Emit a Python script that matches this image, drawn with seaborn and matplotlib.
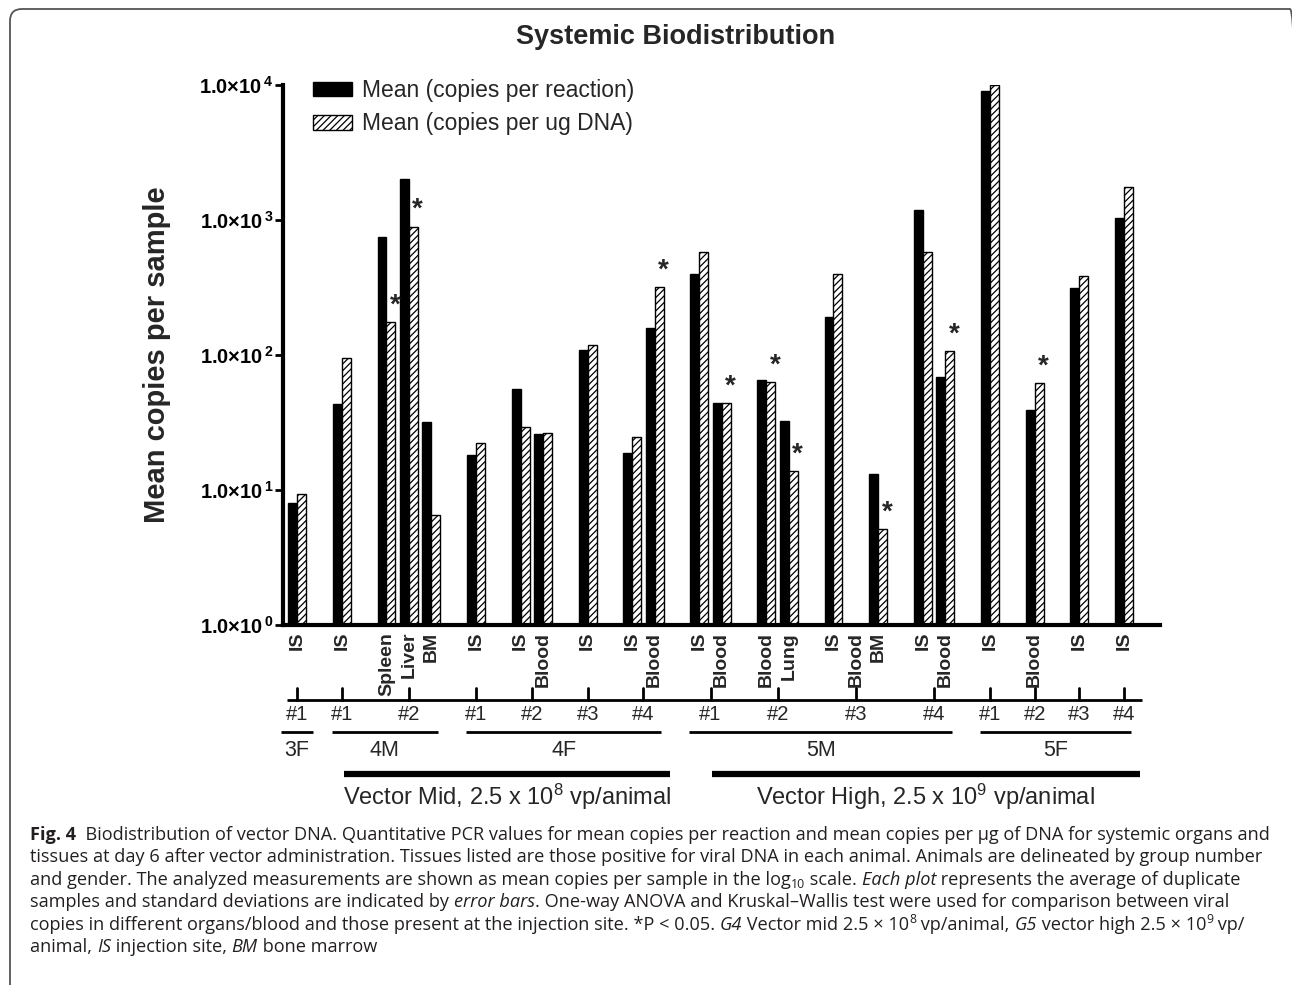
import numpy as np
import pandas as pd
import matplotlib
matplotlib.use("Agg")
import matplotlib.pyplot as plt
import matplotlib.transforms as mtransforms
from matplotlib.patches import Patch, FancyBboxPatch
from matplotlib.ticker import NullLocator
import seaborn as sns

# ---------------- data ----------------
sample_group = ["3F", "4M", "4M", "4M", "4M", "4F", "4F", "4F", "4F", "4F", "4F",
                "5M", "5M", "5M", "5M", "5M", "5M", "5M", "5M", "5M",
                "5F", "5F", "5F", "5F"]
sample_animal = ["#1", "#1", "#2", "#2", "#2", "#1", "#2", "#2", "#3", "#4", "#4",
                 "#1", "#1", "#2", "#2", "#3", "#3", "#3", "#4", "#4",
                 "#1", "#2", "#3", "#4"]
sample_tissue = ["IS", "IS", "Spleen", "Liver", "BM", "IS", "IS", "Blood", "IS", "IS", "Blood",
                 "IS", "Blood", "Blood", "Lung", "IS", "Blood", "BM", "IS", "Blood",
                 "IS", "Blood", "IS", "IS"]
copies_per_reaction = [8.0, 43, 750, 2000, 32, 18.3, 56, 26, 109, 18.7, 158,
                       400, 44, 65, 32.5, 191, np.nan, 13.1, 1180, 69,
                       9100, 39, 312, 1040]
copies_per_ug_dna = [9.3, 95, 175, 890, 6.5, 22.2, 29.4, 26.6, 118, 24.6, 319,
                     580, 44, 63, 13.8, 398, np.nan, 5.1, 577, 107,
                     10000, 62, 387, 1750]
significant = [False, False, True, True, False, False, False, False, False, False, True,
               False, True, True, True, False, False, True, False, True,
               False, True, False, False]

series = ["Mean (copies per reaction)", "Mean (copies per ug DNA)"]
groups = ["3F", "4M", "4F", "5M", "5F"]
group_dose = [None, "Mid", "Mid", "High", "High"]
dose_text = {"Mid": "Vector Mid, 2.5 x 10$^{8}$ vp/animal",
             "High": "Vector High, 2.5 x 10$^{9}$ vp/animal"}
ytick_vals = [1, 10, 100, 1000, 10000]
ytick_labels = [r"$\mathbf{1.0{\times}10^{\,%d}}$" % i for i in range(5)]

caption_lines = [
    [("Fig. 4", "b"), ("  Biodistribution of vector DNA. Quantitative PCR values for mean copies per reaction and mean copies per \u00b5g of DNA for systemic organs and", "n")],
    [("tissues at day 6 after vector administration. Tissues listed are those positive for viral DNA in each animal. Animals are delineated by group number", "n")],
    [("and gender. The analyzed measurements are shown as mean copies per sample in the log", "n"), ("10", "sub"),
     (" scale. ", "n"), ("Each plot", "i"), (" represents the average of duplicate", "n")],
    [("samples and standard deviations are indicated by ", "n"), ("error bars", "i"),
     (". One-way ANOVA and Kruskal\u2013Wallis test were used for comparison between viral", "n")],
    [("copies in different organs/blood and those present at the injection site. *P < 0.05. ", "n"), ("G4", "i"),
     (" Vector mid 2.5 \u00d7 10", "n"), ("8", "sup"), (" vp/animal, ", "n"), ("G5", "i"),
     (" vector high 2.5 \u00d7 10", "n"), ("9", "sup"), (" vp/", "n")],
    [("animal, ", "n"), ("IS", "i"), (" injection site, ", "n"), ("BM", "i"), (" bone marrow", "n")],
]

# ---------------- style ----------------
sns.set_style("ticks")
plt.rcParams["font.family"] = ["Liberation Sans", "DejaVu Sans"]
plt.rcParams["mathtext.fontset"] = "custom"
plt.rcParams["mathtext.rm"] = "Liberation Sans"
plt.rcParams["mathtext.bf"] = "Liberation Sans:bold"
plt.rcParams["mathtext.it"] = "Liberation Sans:italic"
plt.rcParams["hatch.color"] = "black"
plt.rcParams["hatch.linewidth"] = 0.9

W, H = 1292, 985
fig = plt.figure(figsize=(W / 100, H / 100), dpi=100)
fig.patch.set_facecolor("white")

ax_l, ax_r, ax_t, ax_b = 283, 1160, 85, 625
ax = fig.add_axes([ax_l / W, 1 - ax_b / H, (ax_r - ax_l) / W, (ax_b - ax_t) / H])

# ---------------- slots (one empty slot between animals) ----------------
slot_keys, order, tick_text = [], [], []
prev = None
for g, a, t in zip(sample_group, sample_animal, sample_tissue):
    if prev is not None and (g, a) != prev:
        order.append(f"gap{len(order)}")
        tick_text.append("")
    key = f"{g}{a} {t}"
    slot_keys.append(key)
    order.append(key)
    tick_text.append(t)
    prev = (g, a)
pos = {k: i for i, k in enumerate(order)}
n = len(slot_keys)

df = pd.DataFrame({
    "slot": slot_keys * 2,
    "series": [series[0]] * n + [series[1]] * n,
    "value": copies_per_reaction + copies_per_ug_dna,
}).dropna()

sns.barplot(data=df, x="slot", y="value", hue="series", order=order, hue_order=series,
            palette=["black", "white"], saturation=1, width=0.8, errorbar=None,
            edgecolor="black", linewidth=1.0, legend=False, ax=ax)

for p in ax.patches:
    fc = p.get_facecolor()
    if fc[0] > 0.5:
        p.set_hatch("/////")

ax.set_yscale("log")
ax.set_ylim(1, 1e4)
ax.set_xlim(-0.63, 38.61)
ax.set_yticks(ytick_vals)
ax.set_yticklabels(ytick_labels, fontsize=14.5)
ax.yaxis.set_minor_locator(NullLocator())
ax.tick_params(axis="y", length=6, width=2, direction="out", pad=1, colors="black")
ax.set_xticks(range(len(order)))
ax.set_xticklabels(tick_text, rotation=90, fontsize=14, fontweight="bold")
ax.tick_params(axis="x", length=0, pad=5)
ax.set_xlabel("")
ax.set_ylabel("")
sns.despine(ax=ax)
for s in ["left", "bottom"]:
    ax.spines[s].set_linewidth(3)
    ax.spines[s].set_color("black")

# significance stars
for k, v, sig in zip(slot_keys, copies_per_ug_dna, significant):
    if sig:
        ax.annotate("*", xy=(pos[k] + 0.2, v), xytext=(3, 7), textcoords="offset points",
                    ha="center", va="baseline", fontsize=20, fontweight="bold")

# legend
handles = [Patch(facecolor="black", edgecolor="black"),
           Patch(facecolor="white", edgecolor="black", hatch="/////")]
ax.legend(handles, series, loc="upper left", bbox_to_anchor=(313 / W, 1 - 79 / H),
          bbox_transform=fig.transFigure, frameon=False, fontsize=16.5,
          handlelength=1.7, handleheight=0.62, handletextpad=0.45, labelspacing=0.45,
          borderpad=0, borderaxespad=0)

# title and y label
fig.text(676 / W, 1 - 37 / H, "Systemic Biodistribution", ha="center", va="center",
         fontsize=19.5, fontweight="bold")
fig.text(157 / W, 1 - 355 / H, "Mean copies per sample", ha="center", va="center",
         rotation=90, fontsize=21, fontweight="bold")

# ---------------- grouping annotations below the axis ----------------
trans = mtransforms.blended_transform_factory(ax.transData, fig.transFigure)
fy = lambda px: 1 - px / H

animals = []
for g, a, k in zip(sample_group, sample_animal, slot_keys):
    if not animals or animals[-1][0] != (g, a):
        animals.append([(g, a), []])
    animals[-1][1].append(pos[k])

first = pos[slot_keys[0]]
last = pos[slot_keys[-1]]
ax.plot([first - 0.45, last + 0.8], [fy(700)] * 2, transform=trans, color="black",
        lw=2, clip_on=False, solid_capstyle="butt")
for (g, a), ps in animals:
    m = float(np.mean(ps))
    ax.plot([m, m], [fy(688), fy(700)], transform=trans, color="black", lw=2, clip_on=False)
    ax.text(m, fy(715), a, transform=trans, ha="center", va="center", fontsize=14.5)

dose_span = {}
for g, d in zip(groups, group_dose):
    ps = [pos[k] for gg, k in zip(sample_group, slot_keys) if gg == g]
    lo, hi = min(ps), max(ps)
    c = (lo + hi) / 2
    x0, x1 = min(lo - 0.45, c - 0.7), max(hi + 0.3, c + 0.7)
    ax.plot([x0, x1], [fy(732)] * 2, transform=trans, color="black", lw=2,
            clip_on=False, solid_capstyle="butt")
    ax.text((x0 + x1) / 2, fy(750), g, transform=trans, ha="center", va="center", fontsize=15.5)
    if d:
        dose_span.setdefault(d, []).extend([lo, hi])

for d, ps in dose_span.items():
    x0, x1 = min(ps) + 0.1, max(ps) + 0.7
    if d == "High":
        x0 = min(ps) + 0.55
    ax.plot([x0, x1], [fy(774)] * 2, transform=trans, color="black", lw=4.5,
            clip_on=False, solid_capstyle="butt")
    ax.text((x0 + x1) / 2, fy(797), dose_text[d], transform=trans, ha="center",
            va="center", fontsize=17)

# ---------------- caption ----------------
cap_font = ["Open Sans", "DejaVu Sans"]
cap_color = "#231f20"
renderer = fig.canvas.get_renderer()


def props(style, fs):
    p = dict(family=cap_font, color=cap_color, fontsize=fs)
    if style == "b":
        p["fontweight"] = "bold"
    if style == "i":
        p["fontstyle"] = "italic"
    if style in ("sup", "sub"):
        p["fontsize"] = fs * 0.68
    return p


def run_width(s, style, fs):
    t1 = fig.text(0, 0, "x" + s + "x", **props(style, fs))
    t2 = fig.text(0, 0, "xx", **props(style, fs))
    w = t1.get_window_extent(renderer).width - t2.get_window_extent(renderer).width
    t1.remove()
    t2.remove()
    return w


base_fs = 10.0
w1 = sum(run_width(s, st, base_fs) for s, st in caption_lines[0])
cap_fs = base_fs * (1268 - 30) / w1

for li, line in enumerate(caption_lines):
    x = 30.0
    yb = 839.5 + 22.6 * li
    for s, st in line:
        dy = 0
        fs_px = cap_fs * 100 / 72
        if st == "sup":
            dy = -0.36 * fs_px
        elif st == "sub":
            dy = 0.2 * fs_px
        fig.text(x / W, 1 - (yb + dy) / H, s, ha="left", va="baseline", **props(st, cap_fs))
        x += run_width(s, st, cap_fs)

# frame
frame = FancyBboxPatch((10, -20), 1292, 996, boxstyle="round,pad=0,rounding_size=12",
                       transform=mtransforms.IdentityTransform(), fill=False,
                       edgecolor="#555555", linewidth=1.3)
fig.add_artist(frame)

fig.savefig("out.png", dpi=100)
